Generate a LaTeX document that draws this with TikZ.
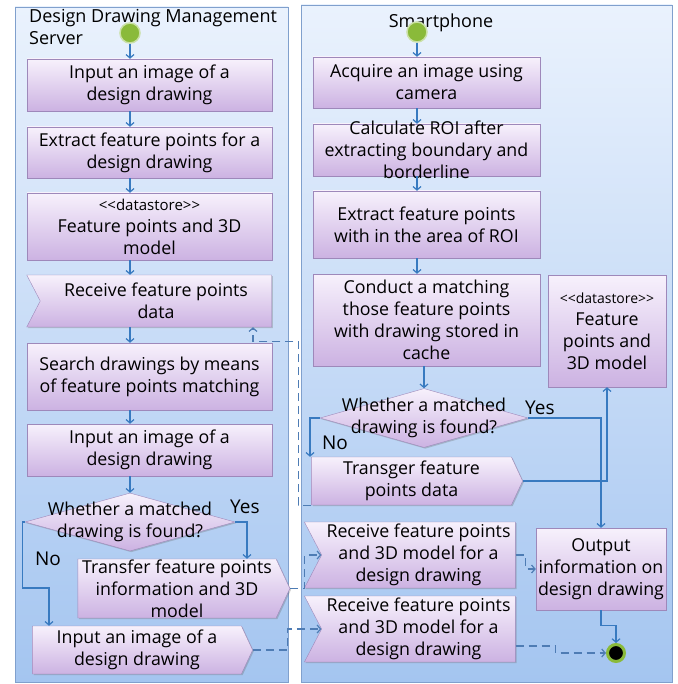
\documentclass[tikz,border=0pt]{standalone}
\usepackage{fontspec}
\setmainfont{Open Sans}
\usetikzlibrary{positioning,shapes.geometric,shapes.symbols,arrows.meta,shadows}

\definecolor{laneline}{RGB}{128,160,205}
\definecolor{lanetop}{RGB}{234,242,253}
\definecolor{lanebot}{RGB}{164,197,240}
\definecolor{boxtop}{RGB}{247,241,252}
\definecolor{boxbot}{RGB}{204,178,226}
\definecolor{boxline}{RGB}{158,136,186}
\definecolor{flowblue}{RGB}{56,122,192}
\definecolor{dashblue}{RGB}{78,124,180}
\definecolor{startgreen}{RGB}{138,186,58}

\begin{document}
\begin{tikzpicture}[
    x=1pt, y=-1pt,
    lane/.style={draw=laneline,line width=0.8pt,top color=lanetop,bottom color=lanebot},
    lanetitle/.style={font=\fontsize{18}{22}\selectfont,inner sep=0pt},
    actbox/.style={rectangle,draw=boxline,top color=boxtop,bottom color=boxbot,align=center,inner sep=0pt,
        font=\fontsize{17.8}{22}\selectfont,
        drop shadow={shadow xshift=1.2pt,shadow yshift=-1.2pt,opacity=0.3,fill=black!60}},
    sendbox/.style={actbox,shape=signal,signal to=east,signal pointer angle=130},
    recvbox/.style={actbox,shape=signal,signal to=nowhere,signal from=west,signal pointer angle=125},
    decision/.style={shape=diamond,draw=boxline,top color=boxtop,bottom color=boxbot,inner sep=0pt,
        drop shadow={shadow xshift=1.2pt,shadow yshift=-1.2pt,opacity=0.3,fill=black!60}},
    boxtext/.style={align=center,inner sep=0pt,font=\fontsize{17.8}{22}\selectfont},
    yesno/.style={font=\fontsize{19}{22}\selectfont,inner sep=0pt},
    startdot/.style={circle,minimum size=20pt,inner sep=0pt,fill=startgreen,draw=startgreen!45,line width=1.5pt},
    enddot/.style={circle,minimum size=17pt,inner sep=0pt,fill=black,draw=startgreen,line width=3pt},
    flow/.style={draw=flowblue,line width=1.2pt,-{Straight Barb[length=3.5pt,width=8pt]}},
    dashflow/.style={draw=dashblue,line width=1.2pt,dash pattern=on 8pt off 5pt,-{Straight Barb[length=3.5pt,width=8pt]}},
]
\useasboundingbox (0,0) rectangle (677,684);

% ===== Swimlanes =====
\path[lane] (15,7) rectangle (288,682);
\path[lane] (301,5) rectangle (672,682);
\node[lanetitle,anchor=base west,align=left] (srvtitle) at (29,45) {Design Drawing Management\\Server};
\node[lanetitle,anchor=base] (phtitle) at (441,28) {Smartphone};

% ===== Server lane =====
\node[startdot] (srvstart) at (130,33) {};
\node[actbox,minimum width=245pt,minimum height=52pt] (srvin) at (149.5,85) {Input an image of a\\design drawing};
\node[actbox,minimum width=245pt,minimum height=51pt] (srvext) at (149.5,152.5) {Extract feature points for a\\design drawing};
\node[actbox,minimum width=245pt,minimum height=67pt] (srvstore) at (149.5,226.5) {{\fontsize{15}{15}\selectfont <{}<datastore>{}>}\\Feature points and 3D\\model};
\node[recvbox,minimum width=245pt,minimum height=52pt] (srvrecv) at (156,301) {Receive feature points\\data};
\node[actbox,minimum width=245pt,minimum height=67pt] (srvsearch) at (149.5,376.5) {Search drawings by means\\of feature points matching};
\node[actbox,minimum width=245pt,minimum height=52pt] (srvin2) at (149.5,450) {Input an image of a\\design drawing};
\node[decision,minimum width=210pt,minimum height=58pt,
    label={[boxtext]center:Whether a matched\\drawing is found?}] (srvdec) at (130,522) {};
\node[sendbox,minimum width=212pt,minimum height=59pt] (srvsend) at (177,588.5) {Transfer feature points\\information and 3D\\model};
\node[sendbox,minimum width=220pt,minimum height=48pt] (srvin3) at (137,650) {Input an image of a\\design drawing};
\node[yesno,anchor=base west] (srvyes) at (230,513) {Yes};
\node[yesno] (srvno) at (48,559) {No};

% server flow
\draw[flow] (srvstart) -- (srvin.north -| srvstart);
\foreach \a/\b in {srvin/srvext,srvext/srvstore,srvstore/srvrecv,srvrecv/srvsearch,srvsearch/srvin2}
    \draw[flow] (\a.south -| srvstart) -- (\b.north -| srvstart);
\draw[flow] (srvin2.south -| srvdec) -- (srvdec.north);
\draw[flow] (srvdec.east) -| ([xshift=70pt]srvsend.north);
\draw[flow] (srvdec.west) -- ++(-2,0) -- ++(0,66) -| ([xshift=-88pt]srvin3.north);

% ===== Smartphone lane =====
\node[startdot] (phstart) at (417,32) {};
\node[actbox,minimum width=227pt,minimum height=51pt] (phacq) at (426.5,82.5) {Acquire an image using\\camera};
\node[actbox,minimum width=227pt,minimum height=52pt,
    label={[boxtext]center:Calculate ROI after\\extracting boundary and\\borderline}] (phroi) at (426.5,150) {};
\node[actbox,minimum width=227pt,minimum height=67pt] (phext) at (426.5,224.5) {Extract feature points\\with in the area of ROI};
\node[actbox,minimum width=227pt,minimum height=92pt] (phmatch) at (426.5,320) {Conduct a matching\\those feature points\\with drawing stored in\\cache};
\node[decision,minimum width=208pt,minimum height=59pt,
    label={[boxtext]center:Whether a matched\\drawing is found?}] (phdec) at (424,418) {};
\node[sendbox,minimum width=211pt,minimum height=48pt] (phsend) at (411.5,481) {Transger feature\\points data};
\node[actbox,minimum width=118pt,minimum height=112pt] (phstore) at (607,331) {{\fontsize{14}{15}\selectfont <{}<datastore>{}>}\\Feature\\points and\\3D model};
\node[recvbox,minimum width=211pt,minimum height=66pt] (phrecv) at (418.5,555) {Receive feature points\\and 3D model for a\\design drawing};
\node[recvbox,minimum width=211pt,minimum height=66pt] (phrecv2) at (418.5,629) {Receive feature points\\and 3D model for a\\design drawing};
\node[actbox,minimum width=130pt,minimum height=82pt] (phout) at (601,569) {Output\\information on\\design drawing};
\node[enddot] (phend) at (616,653) {};
\node[yesno,anchor=base west] (phyes) at (525,414) {Yes};
\node[yesno] (phno) at (335,443) {No};

% smartphone flow
\draw[flow] (phstart) -- (phacq.north -| phstart);
\foreach \a/\b in {phacq/phroi,phroi/phext,phext/phmatch}
    \draw[flow] (\a.south -| phstart) -- (\b.north -| phstart);
\draw[flow] (phmatch.south -| phdec) -- (phdec.north);
\draw[flow] (phdec.west) -| ([xshift=-101.5pt]phsend.north);
\draw[flow] (phdec.east) -| (phout.north);
\draw[flow] (phsend.east) -| (phstore.south);
\draw[dashflow] (phrecv.east) -- ++(10,0) |- (phout.west);
\draw[flow] (phout.south) -- ++(0,15) -| (phend.north);
\draw[dashflow] ([yshift=-17pt]phrecv2.east) -- ++(40,0) |- (phend.west);

% ===== Between lanes =====
\draw[dashflow] (srvsend.east) -- ++(14,0) |- (phrecv.west);
\draw[dashflow] (srvin3.east) -- ++(35,0) |- (phrecv2.west);
\draw[dashflow] (phsend.south west) -- ++(-13,0) -- ++(0,-164) -| ([xshift=97pt]srvrecv.south);

\end{tikzpicture}
\end{document}
